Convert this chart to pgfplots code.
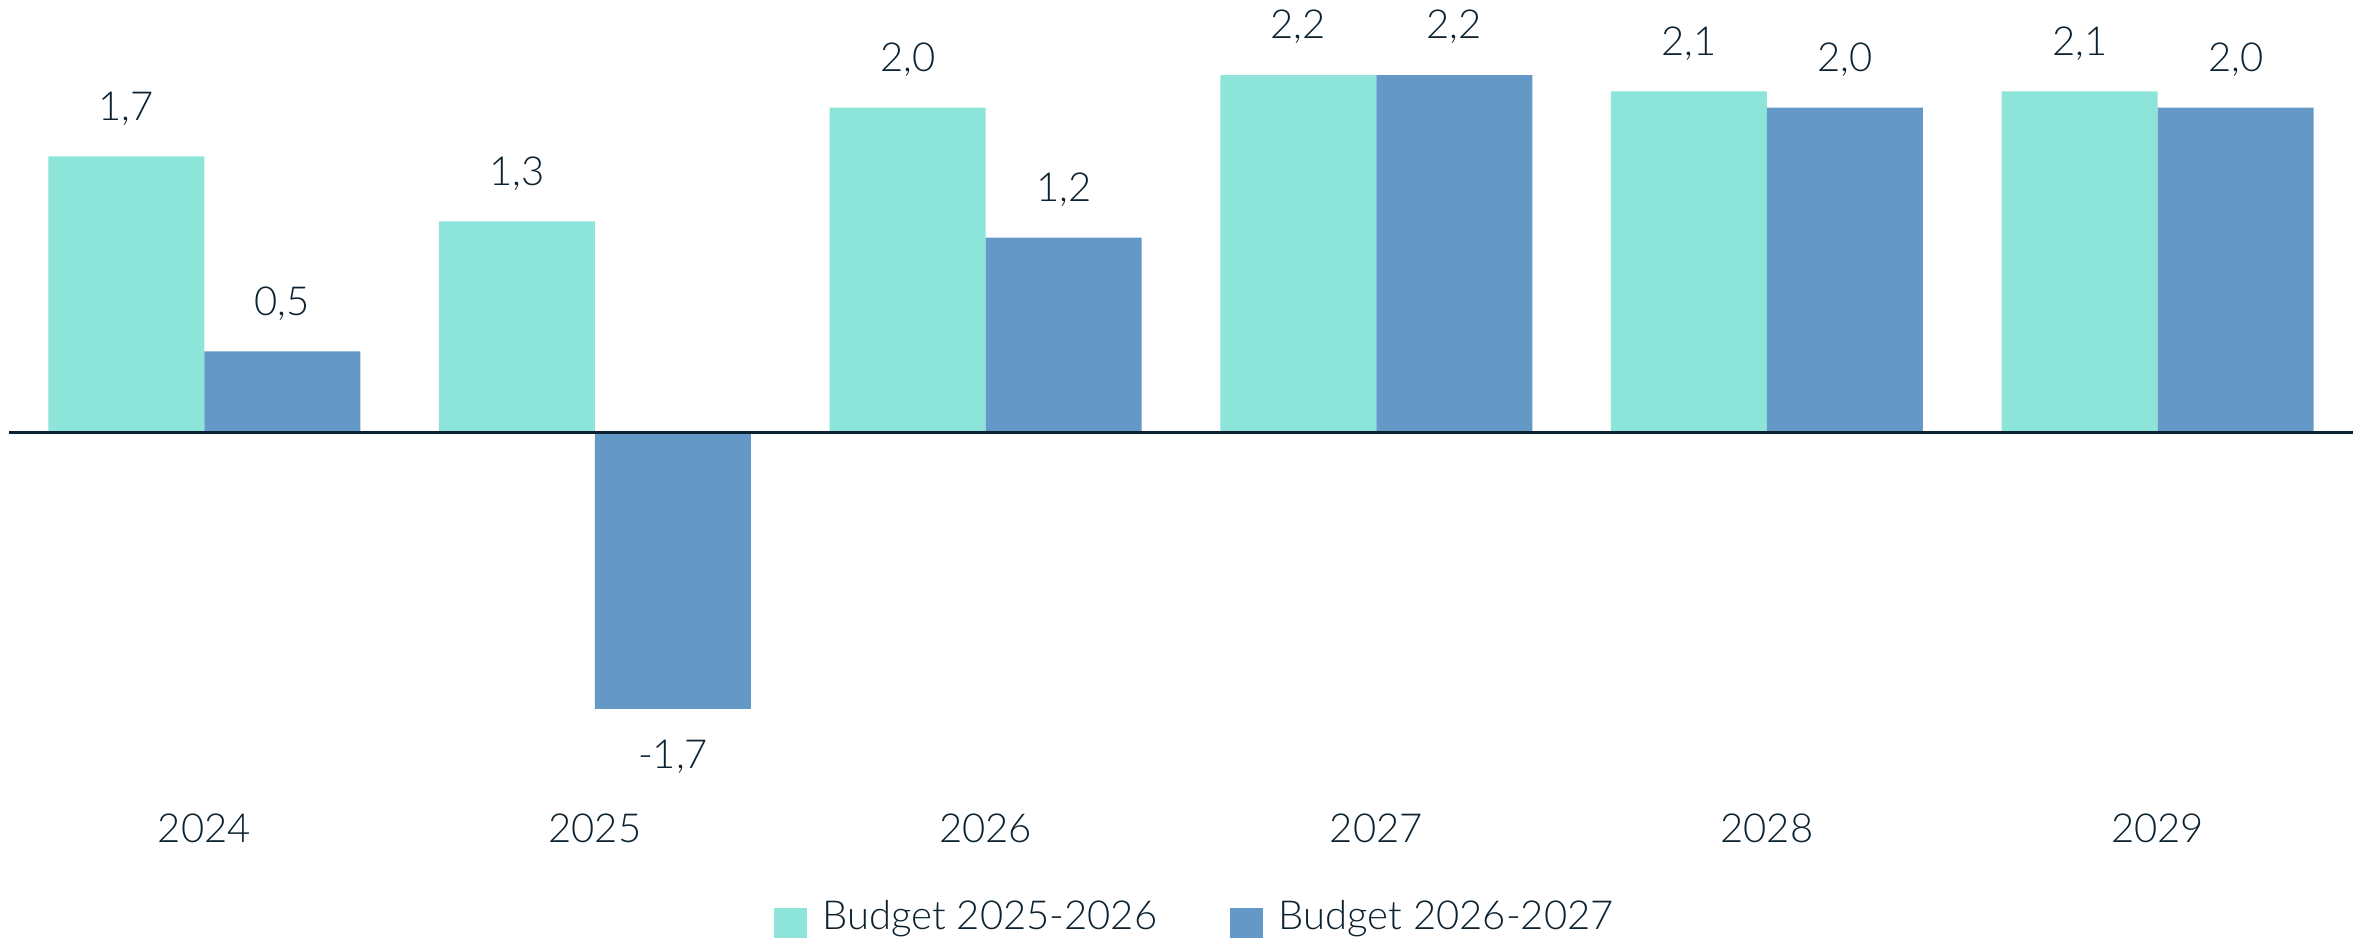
\documentclass[border=0pt]{standalone}
\usepackage{pgfplots}
\pgfplotsset{compat=1.18}
\usepackage{fontspec}
\setmainfont{Lato}[UprightFont={* Light}]
\definecolor{cLight}{HTML}{8DE5DA}
\definecolor{cBlue}{HTML}{6398C7}
\definecolor{cText}{HTML}{0D2230}
\begin{document}
\begin{tikzpicture}[font=\fontsize{8pt}{9.5pt}\selectfont, text=cText]
\path[use as bounding box] (0pt,0pt) rectangle (472.2pt,187.6pt);
\begin{axis}[
  at={(1.8pt,45.8pt)}, anchor=south west,
  scale only axis, width=468.8pt, height=126.8pt,
  xmin=-0.5, xmax=5.5, ymin=-1.7, ymax=2.2,
  ybar=0pt, bar width=31.2pt,
  clip=false,
  axis line style={draw=none}, tick style={draw=none},
  ytick=\empty,
  xtick={0,1,2,3,4,5},
  xticklabels={2024,2025,2026,2027,2028,2029},
  xticklabel style={anchor=base, yshift=-22.5pt, text=cText},
  /pgf/number format/assume math mode=true,
  nodes near coords,
  nodes near coords align=vertical,
  every node near coord/.append style={inner ysep=6pt, inner xsep=0pt, text=cText,
    /pgf/number format/.cd, fixed, fixed zerofill, precision=1, use comma},
  legend style={at={(0.5075,-0.33)}, anchor=center, draw=none, fill=none,
    legend columns=2, text=cText,
    /tikz/every even column/.append style={column sep=12.5pt},
    /tikz/every odd column/.append style={column sep=1.2pt}},
  legend cell align=left,
]
\addplot[fill=cLight, draw=none, legend image code/.code={\fill[cLight] (0pt,-4.1pt) rectangle (6.6pt,2.0pt);}] coordinates {(0,1.7) (1,1.3) (2,2.0) (3,2.2) (4,2.1) (5,2.1)};
\addplot[fill=cBlue, draw=none, legend image code/.code={\fill[cBlue] (0pt,-4.1pt) rectangle (6.6pt,2.0pt);}] coordinates {(0,0.5) (1,-1.7) (2,1.2) (3,2.2) (4,2.0) (5,2.0)};
\legend{Budget 2025-2026, Budget 2026-2027}
\draw[cText, line width=0.6pt] (axis cs:-0.5,0) -- (axis cs:5.5,0);
\end{axis}
\end{tikzpicture}
\end{document}
